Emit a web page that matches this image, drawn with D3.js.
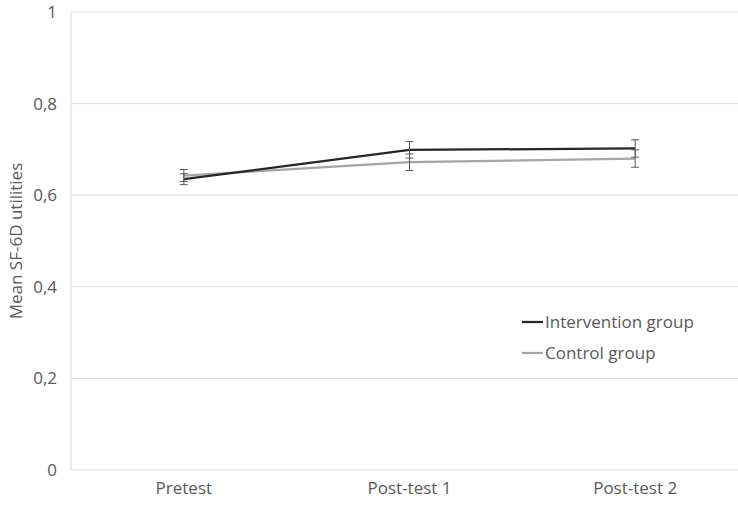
<!DOCTYPE html>
<html>
<head>
<meta charset="utf-8">
<script src="https://cdn.jsdelivr.net/npm/d3@7"></script>
<style>
  body { margin: 0; background: #fff; }
  text { font-family: "Open Sans", sans-serif; }
</style>
</head>
<body>
<div id="chart"></div>
<script>
// categories and series
const timepoints = ["Pretest", "Post-test 1", "Post-test 2"];
const intervention = [0.635, 0.699, 0.702];
const interventionErr = [0.012, 0.018, 0.019];
const control = [0.643, 0.672, 0.680];
const controlErr = [0.013, 0.018, 0.019];
const yTicks = [0, 0.2, 0.4, 0.6, 0.8, 1];
const seriesNames = ["Intervention group", "Control group"];

const W = 738, H = 506;
const margin = { top: 12, right: -10, bottom: 36, left: 71 },
    width = W - margin.left - margin.right,
    height = H - margin.top - margin.bottom;
const fontSize = 17;

const svg = d3.select("#chart")
    .append("svg")
    .attr("width", W)
    .attr("height", H)
    .style("display", "block");

const g = svg.append("g")
    .attr("transform", `translate(${margin.left},${margin.top})`);

const x = d3.scaleBand()
    .domain(timepoints)
    .range([0, width]);

const y = d3.scaleLinear()
    .domain([0, 1])
    .range([height, 0]);

const fmt = d => d3.format(".1f")(d).replace(".", ",").replace(/^1,0$/, "1").replace(/^0,0$/, "0");

// gridlines
g.append("g")
    .selectAll("line")
    .data(yTicks)
    .join("line")
    .attr("x1", 0)
    .attr("x2", width)
    .attr("y1", d => y(d))
    .attr("y2", d => y(d))
    .attr("stroke", "#d9d9d9")
    .attr("stroke-width", 1);

// left axis line
g.append("line")
    .attr("x1", 0).attr("x2", 0)
    .attr("y1", 0).attr("y2", height)
    .attr("stroke", "#d9d9d9");

// y axis labels
const yAxis = g.append("g")
    .call(d3.axisLeft(y).tickValues(yTicks).tickFormat(fmt).tickSize(0).tickPadding(14));
yAxis.select(".domain").remove();
yAxis.selectAll("text")
    .attr("font-size", fontSize)
    .attr("fill", "#595959");

// x axis labels
const xAxis = g.append("g")
    .attr("transform", `translate(0,${height})`)
    .call(d3.axisBottom(x).tickSize(0).tickPadding(12));
xAxis.select(".domain").remove();
xAxis.selectAll("text")
    .attr("font-size", fontSize)
    .attr("fill", "#595959");

// y axis title
svg.append("text")
    .attr("transform", `translate(22,${margin.top + height / 2}) rotate(-90)`)
    .attr("text-anchor", "middle")
    .attr("font-size", fontSize)
    .attr("fill", "#595959")
    .text("Mean SF-6D utilities");

const cx = d => x(d) + x.bandwidth() / 2;

const series = [
    { name: seriesNames[0], values: intervention, err: interventionErr, color: "#262626" },
    { name: seriesNames[1], values: control, err: controlErr, color: "#a6a6a6" }
];

const line = d3.line()
    .x((d, i) => cx(timepoints[i]))
    .y(d => y(d));

// lines (control drawn first, intervention on top)
g.append("g")
    .selectAll("path")
    .data(series.slice().reverse())
    .join("path")
    .attr("fill", "none")
    .attr("stroke", d => d.color)
    .attr("stroke-width", 2.25)
    .attr("d", d => line(d.values));

// error bars
series.forEach(s => {
    const eb = g.append("g")
        .selectAll("g")
        .data(s.values.map((v, i) => ({ t: timepoints[i], v: v, e: s.err[i] })))
        .join("g")
        .attr("stroke", "#595959")
        .attr("stroke-width", 1);
    eb.append("line")
        .attr("x1", d => cx(d.t)).attr("x2", d => cx(d.t))
        .attr("y1", d => y(d.v + d.e)).attr("y2", d => y(d.v - d.e));
    [1, -1].forEach(sign => {
        eb.append("line")
            .attr("x1", d => cx(d.t) - 4).attr("x2", d => cx(d.t) + 4)
            .attr("y1", d => y(d.v + sign * d.e)).attr("y2", d => y(d.v + sign * d.e));
    });
});

// legend
const legend = svg.append("g")
    .selectAll("g")
    .data(series)
    .join("g")
    .attr("transform", (d, i) => `translate(522,${322 + i * 31})`);

legend.append("line")
    .attr("x1", 0).attr("x2", 21)
    .attr("stroke", d => d.color)
    .attr("stroke-width", 2.25);

legend.append("text")
    .attr("x", 23)
    .attr("dy", "0.35em")
    .attr("font-size", fontSize)
    .attr("fill", "#595959")
    .text(d => d.name);
</script>
</body>
</html>
